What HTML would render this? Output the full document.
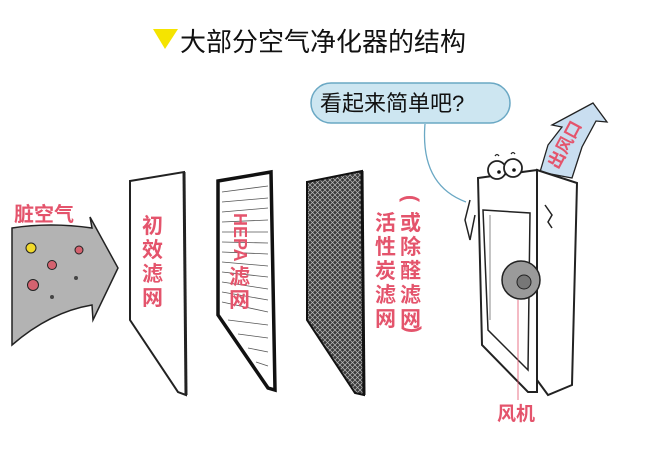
<!DOCTYPE html>
<html><head><meta charset="utf-8"><style>
html,body{margin:0;padding:0;background:#fff;}
svg{display:block;}
.r{fill:#e4546c;font-family:"Liberation Sans","Noto Sans CJK SC",sans-serif;font-weight:bold;}
</style></head><body>
<svg width="662" height="454" viewBox="0 0 662 454" xmlns="http://www.w3.org/2000/svg">
<defs>
<pattern id="mesh" width="5" height="5" patternUnits="userSpaceOnUse">
<rect width="5" height="5" fill="#3a3a3a"/>
<path d="M0 0L5 5M5 0L0 5" stroke="#bbb" stroke-width="0.7"/>
</pattern>
</defs>
<polygon points="153,29 178,29 165,49" fill="#f5e400"/>
<text x="180" y="51" font-size="26" font-family="'Liberation Sans','Noto Sans CJK SC',sans-serif" fill="#111">大部分空气净化器的结构</text>

<path d="M12,228 Q50,222 92,228 L90,217 L118,268 L93,320 L92,305 Q50,312 12,345 Z" fill="#b3b3b3" stroke="#222" stroke-width="1.5"/>
<circle cx="31" cy="248" r="5" fill="#f1d92a" stroke="#222"/>
<circle cx="79" cy="250" r="4" fill="#d4626f" stroke="#222"/>
<circle cx="52" cy="265" r="4.5" fill="#d4626f" stroke="#222"/>
<circle cx="33" cy="285" r="5.5" fill="#d4626f" stroke="#222"/>
<circle cx="76" cy="278" r="2" fill="#444"/>
<circle cx="52" cy="297" r="2" fill="#444"/>
<text class="r" x="14" y="221" font-size="20">脏空气</text>

<polygon points="130,181 184,172 186,395 178,392 130,320" fill="#fff" stroke="#222" stroke-width="2"/>
<line x1="184" y1="172" x2="186" y2="395" stroke="#222" stroke-width="3"/>
<g class="r" font-size="21"><text x="142" y="233">初</text><text x="142" y="257">效</text><text x="142" y="281">滤</text><text x="142" y="305">网</text></g>

<polygon points="218,181 271,172 275,390 268,388 218,315" fill="#fff" stroke="#111" stroke-width="3.5"/>
<g stroke="#555" stroke-width="0.8">
<line x1="222" y1="192" x2="268" y2="186"/><line x1="222" y1="202" x2="268" y2="198"/><line x1="222" y1="212" x2="268" y2="208"/>
<line x1="222" y1="222" x2="268" y2="220"/><line x1="222" y1="232" x2="268" y2="232"/><line x1="222" y1="242" x2="268" y2="243"/>
<line x1="222" y1="252" x2="268" y2="254"/><line x1="222" y1="262" x2="268" y2="266"/><line x1="222" y1="272" x2="268" y2="277"/>
<line x1="222" y1="282" x2="268" y2="289"/><line x1="222" y1="292" x2="268" y2="300"/><line x1="222" y1="302" x2="268" y2="312"/>
<line x1="228" y1="320" x2="268" y2="325"/><line x1="238" y1="334" x2="268" y2="338"/><line x1="248" y1="348" x2="268" y2="352"/><line x1="256" y1="362" x2="268" y2="366"/>
</g>
<text class="r" font-size="18" transform="translate(234,213) rotate(90)">HEPA</text>
<g class="r" font-size="21"><text x="229" y="284">滤</text><text x="229" y="307">网</text></g>

<polygon points="307,182 362,171 364,395 355,393 307,320" fill="url(#mesh)" stroke="#111" stroke-width="2"/>
<line x1="362" y1="171" x2="364" y2="395" stroke="#111" stroke-width="3"/>
<g class="r" font-size="21"><text x="375" y="230">活</text><text x="375" y="254">性</text><text x="375" y="278">炭</text><text x="375" y="302">滤</text><text x="375" y="326">网</text></g>
<g class="r" font-size="21"><text x="401" y="212" transform="rotate(90 411 205)">(</text><text x="400" y="230">或</text><text x="400" y="254">除</text><text x="400" y="278">醛</text><text x="400" y="302">滤</text><text x="400" y="326">网</text><text x="404" y="338" transform="rotate(90 411 333)">)</text></g>

<path d="M425,124 Q420,185 466,202" fill="none" stroke="#6aa8c4" stroke-width="1.3"/>
<rect x="311" y="83" width="199" height="40" rx="20" fill="#cde6f1" stroke="#6aa8c4" stroke-width="1.5"/>
<text x="320" y="111" font-size="22" font-family="'Liberation Sans','Noto Sans CJK SC',sans-serif" fill="#111">看起来简单吧?</text>

<polygon points="540,172 548,145 562,127 552,125 593,103 607,122 596,121 582,147 572,178" fill="#c9def0" stroke="#222" stroke-width="1.3"/>
<text class="r" font-size="17" transform="translate(558,170) rotate(-62)">出风口</text>

<polygon points="537,170 577,183 572,385 548,395 537,380" fill="#fff" stroke="#222" stroke-width="2"/>
<polygon points="478,178 537,170 537,392 528,392 482,345" fill="#fff" stroke="#222" stroke-width="2"/>
<polygon points="483,210 530,213 528,370 488,330" fill="#fff" stroke="#222" stroke-width="1.5"/>
<line x1="490" y1="215" x2="490" y2="320" stroke="#888"/>
<circle cx="521" cy="280" r="19" fill="#9a9a9a" stroke="#222" stroke-width="1.5"/>
<circle cx="524" cy="282" r="7" fill="#777" stroke="#222"/>
<path d="M470,200 L465,220 L470,240 L475,215" fill="none" stroke="#222" stroke-width="1.5"/>
<path d="M545,205 L552,215 L548,222 L552,228" fill="none" stroke="#222" stroke-width="1.5"/>
<circle cx="497" cy="170" r="9" fill="#fff" stroke="#222" stroke-width="1.8"/>
<circle cx="513" cy="168" r="9" fill="#fff" stroke="#222" stroke-width="1.8"/>
<circle cx="499" cy="172" r="1.8" fill="#111"/><circle cx="514" cy="170" r="1.8" fill="#111"/>
<path d="M495,156 q2,-3 4,0 M511,154 q2,-3 4,0" fill="none" stroke="#222" stroke-width="1.3"/>
<line x1="518" y1="300" x2="518" y2="400" stroke="#e4546c" stroke-width="0.8"/>
<text class="r" x="497" y="420" font-size="19">风机</text>
</svg>
</body></html>
